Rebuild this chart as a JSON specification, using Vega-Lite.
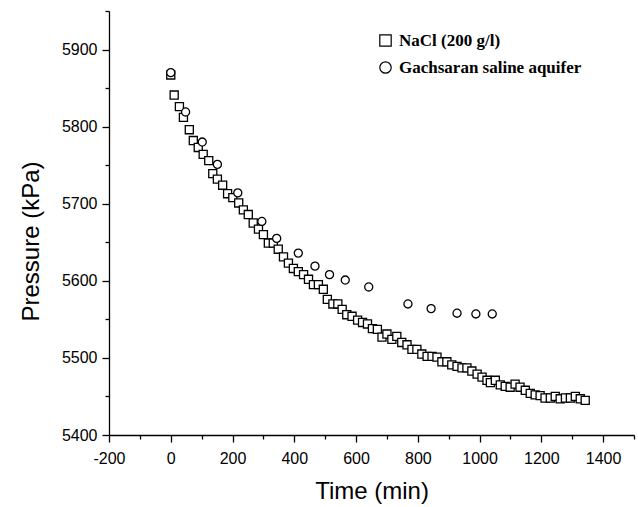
{
  "$schema": "https://vega.github.io/schema/vega-lite/v6.json",
  "width": 525,
  "height": 424,
  "autosize": {"type": "none"},
  "padding": {"left": 109, "top": 11, "right": 4, "bottom": 72},
  "background": "white",
  "config": {"view": {"stroke": null}},
  "data": {
    "values": [
      {"t": 0, "p": 5867, "s": "NaCl (200 g/l)"},
      {"t": 11, "p": 5841, "s": "NaCl (200 g/l)"},
      {"t": 28, "p": 5826, "s": "NaCl (200 g/l)"},
      {"t": 41, "p": 5812, "s": "NaCl (200 g/l)"},
      {"t": 60, "p": 5796, "s": "NaCl (200 g/l)"},
      {"t": 73, "p": 5782, "s": "NaCl (200 g/l)"},
      {"t": 89, "p": 5773, "s": "NaCl (200 g/l)"},
      {"t": 105, "p": 5764, "s": "NaCl (200 g/l)"},
      {"t": 123, "p": 5756, "s": "NaCl (200 g/l)"},
      {"t": 136, "p": 5739, "s": "NaCl (200 g/l)"},
      {"t": 151, "p": 5732, "s": "NaCl (200 g/l)"},
      {"t": 168, "p": 5724, "s": "NaCl (200 g/l)"},
      {"t": 184, "p": 5713, "s": "NaCl (200 g/l)"},
      {"t": 201, "p": 5708, "s": "NaCl (200 g/l)"},
      {"t": 220, "p": 5701, "s": "NaCl (200 g/l)"},
      {"t": 235, "p": 5692, "s": "NaCl (200 g/l)"},
      {"t": 251, "p": 5686, "s": "NaCl (200 g/l)"},
      {"t": 267, "p": 5675, "s": "NaCl (200 g/l)"},
      {"t": 284, "p": 5667, "s": "NaCl (200 g/l)"},
      {"t": 300, "p": 5660, "s": "NaCl (200 g/l)"},
      {"t": 316, "p": 5649, "s": "NaCl (200 g/l)"},
      {"t": 332, "p": 5649, "s": "NaCl (200 g/l)"},
      {"t": 348, "p": 5641, "s": "NaCl (200 g/l)"},
      {"t": 365, "p": 5631, "s": "NaCl (200 g/l)"},
      {"t": 381, "p": 5623, "s": "NaCl (200 g/l)"},
      {"t": 397, "p": 5616, "s": "NaCl (200 g/l)"},
      {"t": 413, "p": 5612, "s": "NaCl (200 g/l)"},
      {"t": 430, "p": 5608, "s": "NaCl (200 g/l)"},
      {"t": 446, "p": 5602, "s": "NaCl (200 g/l)"},
      {"t": 462, "p": 5595, "s": "NaCl (200 g/l)"},
      {"t": 478, "p": 5595, "s": "NaCl (200 g/l)"},
      {"t": 494, "p": 5589, "s": "NaCl (200 g/l)"},
      {"t": 507, "p": 5576, "s": "NaCl (200 g/l)"},
      {"t": 525, "p": 5570, "s": "NaCl (200 g/l)"},
      {"t": 541, "p": 5570, "s": "NaCl (200 g/l)"},
      {"t": 555, "p": 5563, "s": "NaCl (200 g/l)"},
      {"t": 570, "p": 5556, "s": "NaCl (200 g/l)"},
      {"t": 587, "p": 5554, "s": "NaCl (200 g/l)"},
      {"t": 605, "p": 5549, "s": "NaCl (200 g/l)"},
      {"t": 621, "p": 5546, "s": "NaCl (200 g/l)"},
      {"t": 637, "p": 5544, "s": "NaCl (200 g/l)"},
      {"t": 653, "p": 5538, "s": "NaCl (200 g/l)"},
      {"t": 669, "p": 5537, "s": "NaCl (200 g/l)"},
      {"t": 684, "p": 5527, "s": "NaCl (200 g/l)"},
      {"t": 700, "p": 5531, "s": "NaCl (200 g/l)"},
      {"t": 716, "p": 5524, "s": "NaCl (200 g/l)"},
      {"t": 732, "p": 5528, "s": "NaCl (200 g/l)"},
      {"t": 748, "p": 5520, "s": "NaCl (200 g/l)"},
      {"t": 765, "p": 5517, "s": "NaCl (200 g/l)"},
      {"t": 781, "p": 5511, "s": "NaCl (200 g/l)"},
      {"t": 797, "p": 5511, "s": "NaCl (200 g/l)"},
      {"t": 813, "p": 5505, "s": "NaCl (200 g/l)"},
      {"t": 830, "p": 5502, "s": "NaCl (200 g/l)"},
      {"t": 846, "p": 5502, "s": "NaCl (200 g/l)"},
      {"t": 862, "p": 5501, "s": "NaCl (200 g/l)"},
      {"t": 878, "p": 5495, "s": "NaCl (200 g/l)"},
      {"t": 894, "p": 5495, "s": "NaCl (200 g/l)"},
      {"t": 910, "p": 5491, "s": "NaCl (200 g/l)"},
      {"t": 927, "p": 5489, "s": "NaCl (200 g/l)"},
      {"t": 943, "p": 5487, "s": "NaCl (200 g/l)"},
      {"t": 959, "p": 5487, "s": "NaCl (200 g/l)"},
      {"t": 975, "p": 5483, "s": "NaCl (200 g/l)"},
      {"t": 992, "p": 5479, "s": "NaCl (200 g/l)"},
      {"t": 1008, "p": 5475, "s": "NaCl (200 g/l)"},
      {"t": 1024, "p": 5471, "s": "NaCl (200 g/l)"},
      {"t": 1035, "p": 5468, "s": "NaCl (200 g/l)"},
      {"t": 1051, "p": 5471, "s": "NaCl (200 g/l)"},
      {"t": 1067, "p": 5465, "s": "NaCl (200 g/l)"},
      {"t": 1083, "p": 5463, "s": "NaCl (200 g/l)"},
      {"t": 1099, "p": 5462, "s": "NaCl (200 g/l)"},
      {"t": 1115, "p": 5466, "s": "NaCl (200 g/l)"},
      {"t": 1131, "p": 5462, "s": "NaCl (200 g/l)"},
      {"t": 1148, "p": 5458, "s": "NaCl (200 g/l)"},
      {"t": 1164, "p": 5454, "s": "NaCl (200 g/l)"},
      {"t": 1180, "p": 5452, "s": "NaCl (200 g/l)"},
      {"t": 1196, "p": 5451, "s": "NaCl (200 g/l)"},
      {"t": 1212, "p": 5448, "s": "NaCl (200 g/l)"},
      {"t": 1229, "p": 5448, "s": "NaCl (200 g/l)"},
      {"t": 1245, "p": 5450, "s": "NaCl (200 g/l)"},
      {"t": 1261, "p": 5447, "s": "NaCl (200 g/l)"},
      {"t": 1278, "p": 5448, "s": "NaCl (200 g/l)"},
      {"t": 1294, "p": 5448, "s": "NaCl (200 g/l)"},
      {"t": 1310, "p": 5450, "s": "NaCl (200 g/l)"},
      {"t": 1326, "p": 5447, "s": "NaCl (200 g/l)"},
      {"t": 1342, "p": 5445, "s": "NaCl (200 g/l)"},
      {"t": 0, "p": 5870, "s": "Gachsaran saline aquifer"},
      {"t": 48, "p": 5819, "s": "Gachsaran saline aquifer"},
      {"t": 102, "p": 5780, "s": "Gachsaran saline aquifer"},
      {"t": 151, "p": 5751, "s": "Gachsaran saline aquifer"},
      {"t": 217, "p": 5714, "s": "Gachsaran saline aquifer"},
      {"t": 295, "p": 5677, "s": "Gachsaran saline aquifer"},
      {"t": 343, "p": 5655, "s": "Gachsaran saline aquifer"},
      {"t": 413, "p": 5636, "s": "Gachsaran saline aquifer"},
      {"t": 467, "p": 5619, "s": "Gachsaran saline aquifer"},
      {"t": 514, "p": 5608, "s": "Gachsaran saline aquifer"},
      {"t": 565, "p": 5601, "s": "Gachsaran saline aquifer"},
      {"t": 641, "p": 5592, "s": "Gachsaran saline aquifer"},
      {"t": 768, "p": 5570, "s": "Gachsaran saline aquifer"},
      {"t": 843, "p": 5564, "s": "Gachsaran saline aquifer"},
      {"t": 927, "p": 5558, "s": "Gachsaran saline aquifer"},
      {"t": 988, "p": 5557, "s": "Gachsaran saline aquifer"},
      {"t": 1041, "p": 5557, "s": "Gachsaran saline aquifer"}
    ]
  },
  "mark": {"type": "point", "filled": true, "fill": "white", "stroke": "black", "strokeWidth": 1.3, "size": 65, "opacity": 1, "fillOpacity": 1},
  "encoding": {
    "x": {
      "field": "t", "type": "quantitative",
      "scale": {"domain": [-200, 1500], "nice": false, "zero": false},
      "axis": {
        "title": "Time (min)",
        "values": [-200, -100, 0, 100, 200, 300, 400, 500, 600, 700, 800, 900, 1000, 1100, 1200, 1300, 1400, 1500],
        "labelExpr": "datum.value % 200 === 0 && datum.value < 1500 ? '' + datum.value : ''",
        "grid": false,
        "domainColor": "black", "domainWidth": 1.3,
        "tickColor": "black", "tickWidth": 1.3,
        "tickSize": {"condition": {"test": "datum.value % 200 === 0", "value": 7}, "value": 4},
        "labelFont": "Liberation Sans", "labelFontSize": 16, "labelColor": "black", "labelPadding": 8,
        "labelFlush": false, "labelOverlap": false,
        "titleFont": "Liberation Sans", "titleFontSize": 24, "titleFontWeight": "normal", "titleColor": "black", "titlePadding": 13
      }
    },
    "y": {
      "field": "p", "type": "quantitative",
      "scale": {"domain": [5400, 5950], "nice": false, "zero": false},
      "axis": {
        "title": "Pressure (kPa)",
        "values": [5400, 5450, 5500, 5550, 5600, 5650, 5700, 5750, 5800, 5850, 5900, 5950],
        "labelExpr": "datum.value % 100 === 0 ? '' + datum.value : ''",
        "grid": false,
        "domainColor": "black", "domainWidth": 1.3,
        "tickColor": "black", "tickWidth": 1.3,
        "tickSize": {"condition": {"test": "datum.value % 100 === 0", "value": 7}, "value": 4},
        "labelFont": "Liberation Sans", "labelFontSize": 16, "labelColor": "black", "labelPadding": 5,
        "labelFlush": false, "labelOverlap": false,
        "titleFont": "Liberation Sans", "titleFontSize": 24, "titleFontWeight": "normal", "titleColor": "black", "titlePadding": 18, "titleY": 230
      }
    },
    "shape": {
      "field": "s", "type": "nominal",
      "scale": {"domain": ["NaCl (200 g/l)", "Gachsaran saline aquifer"], "range": ["square", "circle"]},
      "legend": {
        "title": null, "orient": "none", "legendX": 268, "legendY": 21,
        "labelFont": "Liberation Serif", "labelFontWeight": "bold", "labelFontSize": 17, "labelColor": "black",
        "labelLimit": 400,
        "symbolSize": 130, "symbolStrokeWidth": 1.2,
        "rowPadding": 9, "labelOffset": 5,
        "symbolType": "square",
        "encoding": {"symbols": {"update": {"fill": {"value": "white"}, "stroke": {"value": "black"}, "strokeWidth": {"value": 1.2}, "opacity": {"value": 1}, "size": {"signal": "datum.value === 'NaCl (200 g/l)' ? 130 : 75"}}}}
      }
    }
  }
}
